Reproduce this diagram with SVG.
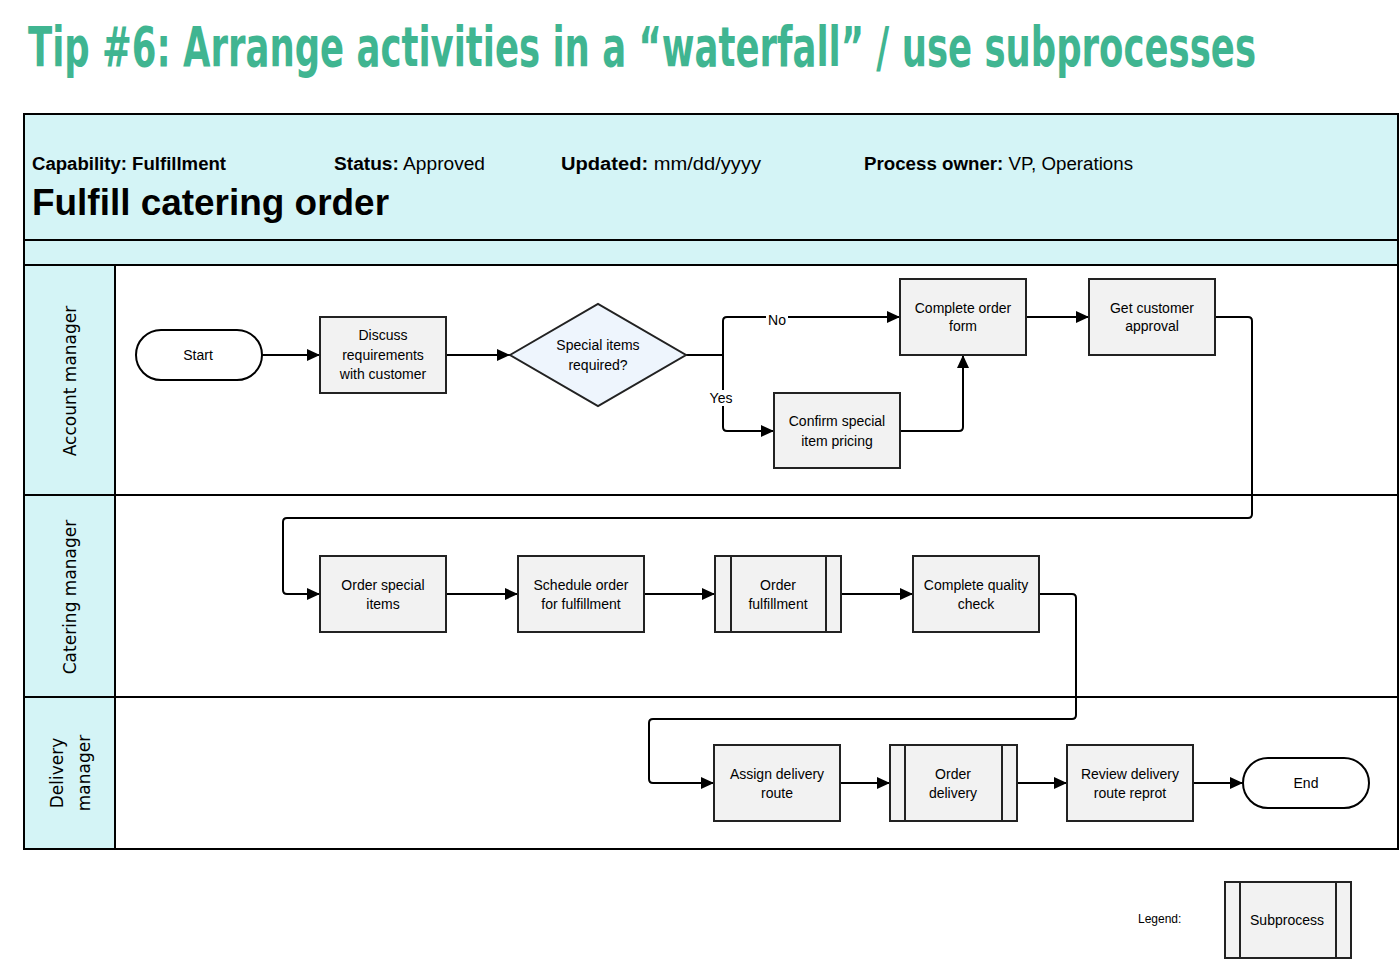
<svg xmlns="http://www.w3.org/2000/svg" width="1400" height="960" viewBox="0 0 1400 960">
<defs>
<marker id="arr" markerUnits="userSpaceOnUse" markerWidth="13" markerHeight="12" refX="13" refY="6" orient="auto">
<path d="M0,0 L13,6 L0,12 z" fill="#000"/>
</marker>
<style>
.title{font-family:"DejaVu Sans Condensed","DejaVu Sans",sans-serif;font-weight:bold;font-size:37px;fill:#40b591}
.hdr{font-family:"Liberation Sans",Arial,sans-serif;font-size:18px;fill:#000}
.b{font-weight:bold}
.big{font-family:"Liberation Sans",Arial,sans-serif;font-size:36px;font-weight:bold;fill:#000}
.lane{font-family:"DejaVu Sans",Verdana,sans-serif;font-size:17px;fill:#000}
.box{fill:#f2f2f2;stroke:#222;stroke-width:2}
.term{fill:#fff;stroke:#000;stroke-width:2}
.dia{fill:#eef5fd;stroke:#222;stroke-width:2}
.t{font-family:"Liberation Sans",Arial,sans-serif;font-size:14px;fill:#000;text-anchor:middle}
.frame{fill:none;stroke:#000;stroke-width:2}
.conn{fill:none;stroke:#000;stroke-width:2}
.sub{stroke:#222;stroke-width:2}
</style>
</defs>
<rect width="1400" height="960" fill="#fff"/>
<text class="title" transform="translate(28,66) scale(1,1.5)" x="0" y="0" textLength="1228" lengthAdjust="spacingAndGlyphs">Tip #6: Arrange activities in a “waterfall” / use subprocesses</text>

<g id="frame">
<rect x="24" y="114" width="1374" height="151" fill="#d4f4f6"/>
<rect x="24" y="265" width="91" height="584" fill="#d4f4f6"/>
<rect x="24" y="114" width="1374" height="735" class="frame"/>
<line x1="24" y1="240" x2="1398" y2="240" class="frame"/>
<line x1="24" y1="265" x2="1398" y2="265" class="frame"/>
<line x1="24" y1="495" x2="1398" y2="495" class="frame"/>
<line x1="24" y1="697" x2="1398" y2="697" class="frame"/>
<line x1="115" y1="265" x2="115" y2="849" class="frame"/>
</g>

<g id="header">
<text class="hdr b" x="32" y="170" textLength="194" lengthAdjust="spacingAndGlyphs">Capability: Fulfillment</text>
<text class="hdr" x="334" y="170" textLength="151" lengthAdjust="spacingAndGlyphs"><tspan class="b">Status:</tspan> Approved</text>
<text class="hdr" x="561" y="170" textLength="200" lengthAdjust="spacingAndGlyphs"><tspan class="b">Updated:</tspan> mm/dd/yyyy</text>
<text class="hdr" x="864" y="170" textLength="269" lengthAdjust="spacingAndGlyphs"><tspan class="b">Process owner:</tspan> VP, Operations</text>
<text class="big" x="32" y="215" textLength="357" lengthAdjust="spacingAndGlyphs">Fulfill catering order</text>
</g>

<g id="lanes">
<text class="lane" transform="translate(76,381) rotate(-90)" text-anchor="middle">Account manager</text>
<text class="lane" transform="translate(76,597) rotate(-90)" text-anchor="middle">Catering manager</text>
<text class="lane" transform="translate(63,773) rotate(-90)" text-anchor="middle">Delivery</text>
<text class="lane" transform="translate(90,773) rotate(-90)" text-anchor="middle">manager</text>
</g>

<g id="connectors">
<path class="conn" d="M262,355 L320,355" marker-end="url(#arr)"/>
<path class="conn" d="M446,355 L510,355" marker-end="url(#arr)"/>
<path class="conn" d="M686,355 L723,355"/>
<path class="conn" d="M723,355 L723,321 Q723,317 727,317 L900,317" marker-end="url(#arr)"/>
<path class="conn" d="M723,355 L723,427 Q723,431 727,431 L774,431" marker-end="url(#arr)"/>
<path class="conn" d="M900,431 L959,431 Q963,431 963,427 L963,355" marker-end="url(#arr)"/>
<path class="conn" d="M1026,317 L1089,317" marker-end="url(#arr)"/>
<path class="conn" d="M1215,317 L1248,317 Q1252,317 1252,321 L1252,514 Q1252,518 1248,518 L287,518 Q283,518 283,522 L283,590 Q283,594 287,594 L320,594" marker-end="url(#arr)"/>
<path class="conn" d="M446,594 L518,594" marker-end="url(#arr)"/>
<path class="conn" d="M644,594 L715,594" marker-end="url(#arr)"/>
<path class="conn" d="M841,594 L913,594" marker-end="url(#arr)"/>
<path class="conn" d="M1039,594 L1072,594 Q1076,594 1076,598 L1076,715 Q1076,719 1072,719 L653,719 Q649,719 649,723 L649,779 Q649,783 653,783 L714,783" marker-end="url(#arr)"/>
<path class="conn" d="M840,783 L890,783" marker-end="url(#arr)"/>
<path class="conn" d="M1017,783 L1067,783" marker-end="url(#arr)"/>
<path class="conn" d="M1193,783 L1243,783" marker-end="url(#arr)"/>
<rect x="766" y="312" width="22" height="16" fill="#fff"/>
<text class="t" x="777" y="325">No</text>
<rect x="708" y="390" width="26" height="16" fill="#fff"/>
<text class="t" x="721" y="403">Yes</text>
</g>

<g id="start">
<rect class="term" x="136" y="330" width="126" height="50" rx="25"/>
<text class="t" x="198" y="360">Start</text>
</g>
<g id="discuss">
<rect class="box" x="320" y="317" width="126" height="76"/>
<text class="t" x="383" y="340">Discuss</text>
<text class="t" x="383" y="360">requirements</text>
<text class="t" x="383" y="379">with customer</text>
</g>
<g id="decision">
<polygon class="dia" points="510,355 598,304 686,355 598,406"/>
<text class="t" x="598" y="350">Special items</text>
<text class="t" x="598" y="370">required?</text>
</g>
<g id="complete-order">
<rect class="box" x="900" y="279" width="126" height="76"/>
<text class="t" x="963" y="313">Complete order</text>
<text class="t" x="963" y="331">form</text>
</g>
<g id="get-approval">
<rect class="box" x="1089" y="279" width="126" height="76"/>
<text class="t" x="1152" y="313">Get customer</text>
<text class="t" x="1152" y="331">approval</text>
</g>
<g id="confirm-pricing">
<rect class="box" x="774" y="393" width="126" height="75"/>
<text class="t" x="837" y="426">Confirm special</text>
<text class="t" x="837" y="446">item pricing</text>
</g>

<g id="order-special">
<rect class="box" x="320" y="556" width="126" height="76"/>
<text class="t" x="383" y="590">Order special</text>
<text class="t" x="383" y="609">items</text>
</g>
<g id="schedule-order">
<rect class="box" x="518" y="556" width="126" height="76"/>
<text class="t" x="581" y="590">Schedule order</text>
<text class="t" x="581" y="609">for fulfillment</text>
</g>
<g id="order-fulfillment">
<rect class="box" x="715" y="556" width="126" height="76"/>
<line class="sub" x1="731" y1="556" x2="731" y2="632"/>
<line class="sub" x1="826" y1="556" x2="826" y2="632"/>
<text class="t" x="778" y="590">Order</text>
<text class="t" x="778" y="609">fulfillment</text>
</g>
<g id="quality-check">
<rect class="box" x="913" y="556" width="126" height="76"/>
<text class="t" x="976" y="590">Complete quality</text>
<text class="t" x="976" y="609">check</text>
</g>

<g id="assign-route">
<rect class="box" x="714" y="745" width="126" height="76"/>
<text class="t" x="777" y="779">Assign delivery</text>
<text class="t" x="777" y="798">route</text>
</g>
<g id="order-delivery">
<rect class="box" x="890" y="745" width="127" height="76"/>
<line class="sub" x1="905" y1="745" x2="905" y2="821"/>
<line class="sub" x1="1002" y1="745" x2="1002" y2="821"/>
<text class="t" x="953" y="779">Order</text>
<text class="t" x="953" y="798">delivery</text>
</g>
<g id="review-route">
<rect class="box" x="1067" y="745" width="126" height="76"/>
<text class="t" x="1130" y="779">Review delivery</text>
<text class="t" x="1130" y="798">route reprot</text>
</g>
<g id="end">
<rect class="term" x="1243" y="758" width="126" height="50" rx="25"/>
<text class="t" x="1306" y="788">End</text>
</g>

<g id="legend">
<text x="1138" y="923" style="font-family:'Liberation Sans',Arial,sans-serif;font-size:12px;fill:#000">Legend:</text>
<rect class="box" x="1225" y="882" width="126" height="76"/>
<line class="sub" x1="1240" y1="882" x2="1240" y2="958"/>
<line class="sub" x1="1336" y1="882" x2="1336" y2="958"/>
<text class="t" x="1287" y="925">Subprocess</text>
</g>
</svg>
